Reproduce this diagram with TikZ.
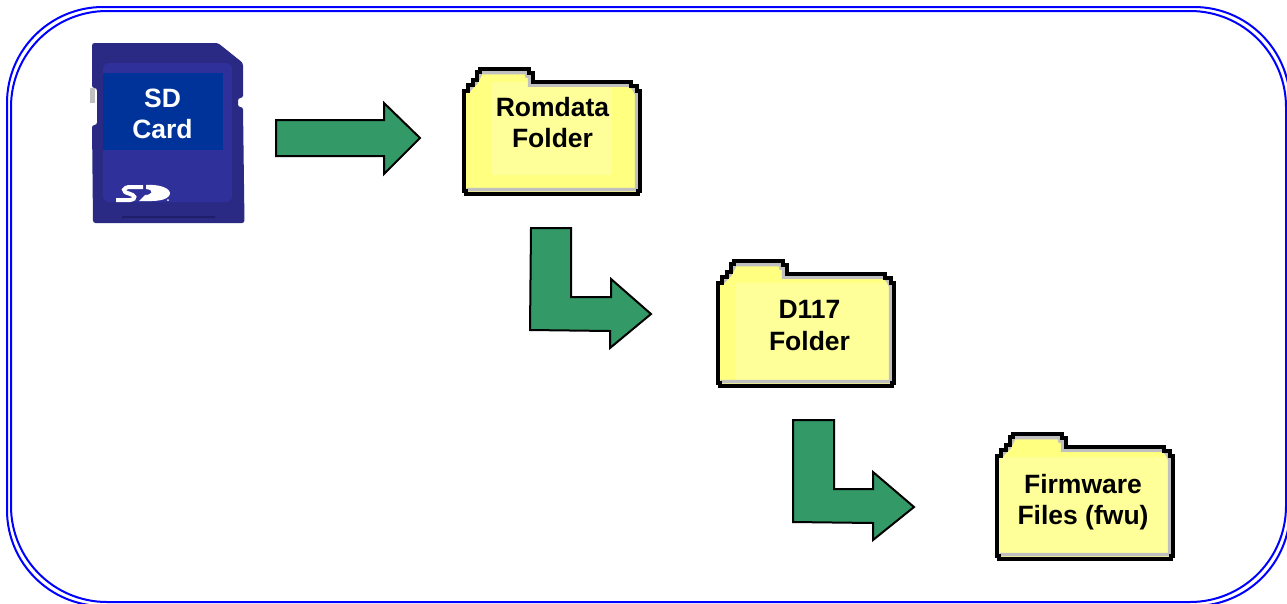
\documentclass[tikz,border=0pt]{standalone}
\usepackage{fontspec}
\setmainfont{Liberation Sans}
\definecolor{framecol}{HTML}{0000FF}
\definecolor{arrowcol}{HTML}{339966}
\definecolor{folderfill}{HTML}{FFFF80}
\definecolor{folderbox}{HTML}{FFFF99}
\definecolor{foldergrey}{HTML}{C0C0C0}
\definecolor{cardout}{HTML}{2A2A85}
\definecolor{cardface}{HTML}{30309A}
\definecolor{cardlabel}{HTML}{003399}
\definecolor{cardslot}{HTML}{1E1F6B}
\tikzset{
  frameline/.style={draw=framecol,line width=2pt,rounded corners=96pt},
  blockarrow/.style={draw=black,fill=arrowcol,line width=2pt,line join=miter},
  folderbody/.style={fill=folderfill},
  folderedge/.style={draw=black,line width=4pt,line join=miter},
  foldershade/.style={draw=foldergrey,line width=3.5pt,line join=miter},
  foldertext/.style={font=\fontsize{26.5}{31.5}\selectfont\bfseries,align=center,text=black,inner sep=0pt},
  cardtext/.style={font=\fontsize{26.5}{31}\selectfont\bfseries,align=center,text=white,inner sep=0pt}
}
\newcommand{\folderpath}{(2,124) -- (2,24) -- (6,24) -- (6,18) -- (11,18) -- (11,13) -- (15,13) -- (15,5) -- (18,5) -- (18,2) -- (67,2) -- (67,6) -- (71,6) -- (71,14.5) -- (169,14.5) -- (169,18.5) -- (175,18.5) -- (175,24) -- (178,24) -- (178,124) -- (176,124) -- (176,126.5) -- (4,126.5) -- (4,124) -- cycle}
\newcommand{\folderart}[6]{%
  \begin{scope}[shift={(#1,#2)}]
    \fill[folderbody] \folderpath;
    \fill[folderbox] (#3,#4) rectangle (#5,#6);
    \draw[foldershade] (5.5,25) -- (9,21) -- (14,16) -- (18,8) -- (19,5.5) -- (64,5.5) -- (65,9) -- (67.5,9) -- (67.5,18) -- (168,18) -- (172,22) -- (174.5,27) -- (174.5,122.5) -- (4.5,122.5);
    \draw[folderedge] \folderpath;
  \end{scope}}
\begin{document}
\begin{tikzpicture}[x=1pt,y=-1pt]
\useasboundingbox (0,0) rectangle (1287,603);
\fill[white] (0,0) rectangle (1287,603);
\begin{scope}
\clip (0,0) rectangle (1287,603);
\draw[frameline] (7,7) rectangle (1290,606);
\draw[frameline] (11,11) rectangle (1286,602);
\end{scope}

% SD card
\fill[cardout,rounded corners=2.5pt] (92,43) -- (218,43) -- (243,63) -- (243,98) -- (238,98) -- (238,107) -- (243,107) -- (244.5,223) -- (93,223) -- (92,125) -- (97,125) -- (97,88) -- (92,88) -- cycle;
\fill[foldergrey] (90,88) rectangle (95,103);
\fill[cardface,rounded corners=6pt] (103,63) -- (232,63) -- (232,202) -- (103,202) -- cycle;
\draw[cardslot,line width=2.5pt] (122,217) -- (215,217);
\fill[cardlabel] (103,73) rectangle (223,150);
\node[cardtext] (card) at (162.5,114) {SD\\Card};
\draw[white,line width=4pt] (116,200) -- (130,200) .. controls (137,199) and (135,195) .. (129,193.5) .. controls (122,192) and (122,187) .. (131,187) -- (143,187);
\fill[white] (146,185) .. controls (165,184) and (173,191) .. (169,196) .. controls (164,202) and (150,201) .. (139,201) -- (145,195) .. controls (152,195) and (155,190) .. (146,189) -- cycle;
\fill[white] (168,200) circle (1pt);

% arrows
\draw[blockarrow] (276,120) -- (384,120) -- (384,103) -- (420,138) -- (384,174) -- (384,156) -- (276,156) -- cycle;
\draw[blockarrow] (531,228) -- (571,228) -- (571,297) -- (611,297) -- (611,279) -- (651,314) -- (610,348) -- (610,331) -- (530,330) -- cycle;
\draw[blockarrow] (793,420) -- (834,420) -- (834,489) -- (873,489) -- (873,472) -- (914,507) -- (873,540) -- (873,523) -- (793,522) -- cycle;

% folders
\folderart{462}{67}{30}{15}{150}{108}
\node[foldertext] (romdata) at (552.5,122.5) {Romdata\\Folder};
\folderart{716}{259}{19}{24}{174}{121}
\node[foldertext] (d117) at (809.5,325.5) {D117\\Folder};
\folderart{995}{432}{3}{25}{175}{121}
\node[foldertext] (fwu) at (1083,502) {Firmware\\Files (fwu)};
\end{tikzpicture}
\end{document}
